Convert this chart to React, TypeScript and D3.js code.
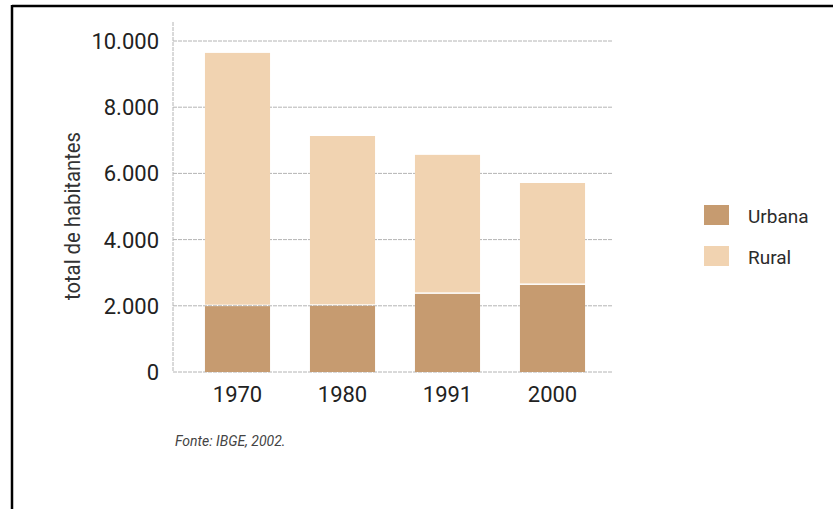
import React from "react";
import * as d3 from "d3";

const years = ["1970", "1980", "1991", "2000"];
const urbana = [1990, 2000, 2360, 2630];
const total = [9640, 7130, 6560, 5710];
const rural = total.map((t, i) => t - urbana[i]);
const yTicks = [0, 2000, 4000, 6000, 8000, 10000];
const seriesNames = ["Urbana", "Rural"];
const colors = ["#c69b70", "#f1d3b1"];

const W = 833;
const H = 509;

export default function App() {
  const x = d3.scaleBand<string>().domain(years).range([185, 605]).paddingInner(0.38).paddingOuter(0.19);
  const y = d3.scaleLinear().domain([0, 10000]).range([372, 41]);
  const fmt = (v: number) => d3.format(",")(v).replace(/,/g, ".");
  const rows = years.map((yr, i) => ({ year: yr, Urbana: urbana[i], Rural: rural[i] }));
  const stack = d3.stack<any>().keys(seriesNames)(rows);

  return (
    <svg width={W} height={H} style={{ position: "absolute", left: 0, top: 0, background: "#fff" }}
      fontFamily="Roboto, 'Liberation Sans', sans-serif">
      <rect x={0} y={0} width={W} height={H} fill="#fff" />
      {/* frame */}
      <line x1={12} x2={W} y1={6} y2={6} stroke="#000" strokeWidth={2.5} />
      <line x1={12} x2={12} y1={5} y2={H} stroke="#000" strokeWidth={2.5} />

      {/* gridlines */}
      {yTicks.map((t) => (
        <line key={t} x1={173} x2={613} y1={y(t)} y2={y(t)} stroke="#b4b4b4" strokeWidth={1} strokeDasharray="4,1" />
      ))}
      <line x1={173} x2={173} y1={22} y2={y(0)} stroke="#b4b4b4" strokeWidth={1} strokeDasharray="4,1" />

      {/* bars */}
      {stack.map((s, si) =>
        s.map((d, i) => {
          const top = y(d[1]);
          const bottom = y(d[0]);
          const gap = si === 1 ? 1.5 : 0;
          return (
            <rect key={si + "-" + i} x={x(years[i])} width={x.bandwidth()} y={top}
              height={bottom - top - gap} fill={colors[si]} />
          );
        })
      )}

      {/* y tick labels */}
      {yTicks.map((t) => (
        <text key={t} x={159} y={y(t)} dy="0.36em" textAnchor="end" fontSize={22} fontWeight={400} fill="#222">
          {fmt(t)}
        </text>
      ))}

      {/* x labels */}
      {years.map((yr) => (
        <text key={yr} x={(x(yr) as number) + x.bandwidth() / 2} y={402} textAnchor="middle" fontSize={22}
          fontWeight={400} fill="#222">
          {yr}
        </text>
      ))}

      {/* y title */}
      <text transform="translate(80,216) rotate(-90)" textAnchor="middle" fontSize={22} fill="#333"
        textLength={168} lengthAdjust="spacingAndGlyphs">
        total de habitantes
      </text>

      {/* legend */}
      {seriesNames.map((n, i) => (
        <g key={n} transform={`translate(704,${205 + i * 41})`}>
          <rect width={25} height={20} fill={colors[i]} />
          <text x={44} y={18} fontSize={19} fill="#2b2b2b" fontWeight={400}>{n}</text>
        </g>
      ))}

      {/* source */}
      <text x={175} y={446} fontSize={14} fontStyle="italic" fill="#444">Fonte: IBGE, 2002.</text>
    </svg>
  );
}
